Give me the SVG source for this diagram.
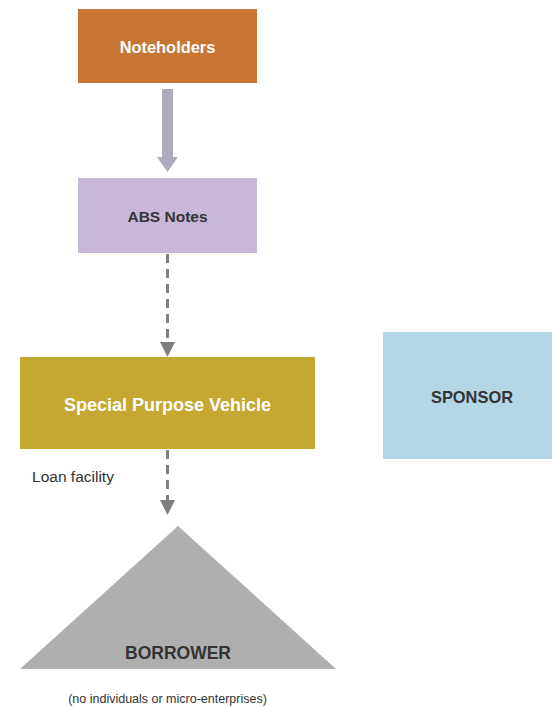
<svg xmlns="http://www.w3.org/2000/svg" width="552" height="707" viewBox="0 0 552 707">
<style>
text{font-family:"Liberation Sans",Arial,sans-serif;text-anchor:middle}
.b{font-weight:bold}
.w{fill:#ffffff}
.d{fill:#333333}
.dash{stroke:#7f7f7f;stroke-width:3;stroke-dasharray:9,6;fill:none}
.head{fill:#7f7f7f}
</style>
<rect width="552" height="707" fill="#ffffff"/>
<g id="connectors">
<path d="M162,89 H173 V157 H178 L167.5,172 L157,157 H162 Z" fill="#acacbe"/>
<line class="dash" x1="167.5" y1="254" x2="167.5" y2="342"/>
<path class="head" d="M160,342 H175 L167.5,357 Z"/>
<line class="dash" x1="167.5" y1="450" x2="167.5" y2="500"/>
<path class="head" d="M160,500 H175 L167.5,515 Z"/>
</g>
<g id="noteholders">
<rect x="78" y="9" width="179" height="74" fill="#c67533"/>
<text class="b w" x="167.5" y="52.5" font-size="16.4">Noteholders</text>
</g>
<g id="abs-notes">
<rect x="78" y="178" width="179" height="75" fill="#c8b7d9"/>
<text class="b d" x="167.5" y="221.5" font-size="15.5">ABS Notes</text>
</g>
<g id="spv">
<rect x="20" y="357" width="295" height="92" fill="#c4a831"/>
<text class="b w" x="167.5" y="410.5" font-size="18">Special Purpose Vehicle</text>
</g>
<g id="sponsor">
<rect x="383" y="332" width="169" height="127" fill="#b3d7e6"/>
<text class="b d" x="472" y="402.5" font-size="16.4">SPONSOR</text>
</g>
<g id="borrower">
<polygon points="178,526 336,669 20,669" fill="#afafaf"/>
<text class="b d" x="178" y="658.5" font-size="17.5">BORROWER</text>
</g>
<text x="73" y="482" font-size="15.5" fill="#333333">Loan facility</text>
<text x="167.5" y="703" font-size="12.5" fill="#333333">(no individuals or micro-enterprises)</text>
</svg>
